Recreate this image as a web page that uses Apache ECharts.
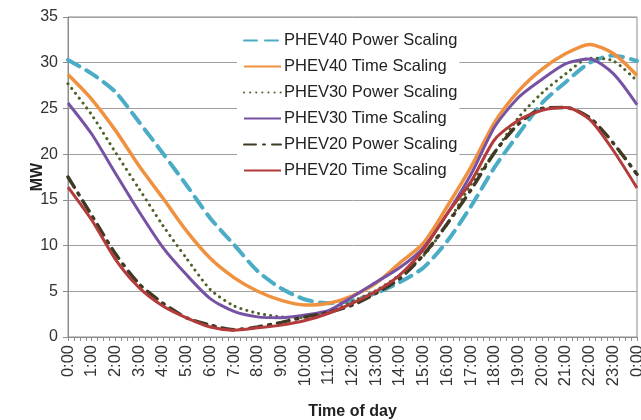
<!DOCTYPE html>
<html>
<head>
<meta charset="utf-8">
<script src="https://cdn.jsdelivr.net/npm/echarts@6/dist/echarts.min.js"></script>
<style>
  html, body { margin: 0; padding: 0; background: #fff; }
  #main { width: 641px; height: 420px; }
</style>
</head>
<body>
<div id="main"></div>
<script>
// hours of the day (0:00 .. 24:00)
const hours = [0, 1, 2, 3, 4, 5, 6, 7, 8, 9, 10, 11, 12, 13, 14, 15, 16, 17, 18, 19, 20, 21, 22, 23, 24];

// MW values, one per hour
const phev40Power = [30.3, 28.8, 26.8, 23.5, 20.1, 16.6, 13.0, 10.1, 7.2, 5.3, 4.1, 3.7, 4.0, 4.8, 6.0, 7.6, 10.5, 14.3, 18.6, 22.2, 25.6, 27.9, 30.0, 30.8, 30.2];
const phev40Time  = [28.7, 26.0, 22.6, 18.7, 15.2, 11.6, 8.6, 6.5, 5.0, 4.0, 3.5, 3.7, 4.5, 5.9, 8.1, 10.3, 14.3, 18.6, 23.5, 26.9, 29.3, 31.0, 32.0, 31.0, 28.6];
const phev30Power = [27.7, 24.3, 20.2, 16.2, 12.2, 8.6, 5.2, 3.4, 2.6, 2.2, 2.1, 2.7, 3.9, 5.1, 6.8, 8.9, 12.4, 16.7, 20.2, 24.0, 26.7, 28.8, 30.5, 30.2, 28.0];
const phev30Time  = [25.6, 22.2, 17.9, 13.7, 9.8, 6.8, 4.2, 2.8, 2.2, 2.1, 2.4, 2.9, 4.4, 6.0, 7.6, 9.8, 13.5, 17.8, 23.0, 26.2, 28.2, 29.9, 30.4, 28.8, 25.4];
const phev20Power = [17.5, 13.3, 9.1, 5.8, 3.7, 2.1, 1.3, 0.8, 1.1, 1.6, 2.2, 2.7, 3.5, 4.8, 6.4, 9.0, 12.4, 16.1, 20.2, 23.3, 25.0, 25.1, 24.0, 21.2, 17.8];
const phev20Time  = [16.4, 12.8, 8.5, 5.4, 3.4, 2.1, 1.1, 0.75, 1.0, 1.3, 1.8, 2.6, 3.7, 5.0, 6.8, 9.6, 13.5, 17.0, 21.6, 23.7, 24.8, 25.1, 23.8, 20.4, 16.3];

const FONT = 'Arial, "Liberation Sans", sans-serif';

function pairs(vals) {
  return hours.map((h, i) => [h, vals[i]]);
}

function mkSeries(name, vals, color, width, type, cap) {
  return {
    name: name,
    type: 'line',
    data: pairs(vals),
    smooth: 0.25,
    symbol: 'none',
    itemStyle: { color: color },
    lineStyle: { color: color, width: width, type: type, cap: cap || 'butt' }
  };
}

let chart = echarts.init(document.getElementById('main'), null, { renderer: 'canvas' });

let option = {
  animation: false,
  backgroundColor: '#fff',
  textStyle: { fontFamily: FONT },
  grid: {
    left: 68, right: 4, top: 17, bottom: 83,
    outerBoundsMode: 'none',
    containLabel: false,
    show: true, borderColor: '#8c8c8c', borderWidth: 1
  },
  legend: {
    orient: 'vertical',
    left: 237, top: 27,
    padding: [5, 2, 4, 6],
    backgroundColor: '#fff',
    itemWidth: 37, itemHeight: 16, itemGap: 9,
    itemStyle: { opacity: 0 },
    textStyle: { fontSize: 16.5, color: '#222', fontFamily: FONT, padding: [0, 0, 0, -2] },
    data: ['PHEV40 Power Scaling', 'PHEV40 Time Scaling', 'PHEV30 Power Scaling',
           'PHEV30 Time Scaling', 'PHEV20 Power Scaling', 'PHEV20 Time Scaling']
  },
  xAxis: {
    type: 'value',
    min: 0, max: 24, interval: 1,
    name: 'Time of day',
    nameLocation: 'middle',
    nameGap: 67,
    nameMoveOverlap: false,
    nameTextStyle: { fontSize: 16, fontWeight: 'bold', color: '#222', fontFamily: FONT },
    axisLine: { show: true, lineStyle: { color: '#8c8c8c', width: 1 } },
    axisTick: { show: true, length: 4, lineStyle: { color: '#8c8c8c' } },
    minorTick: { show: true, splitNumber: 4, length: 4, lineStyle: { color: '#8c8c8c' } },
    splitLine: { show: false },
    axisLabel: {
      rotate: 90, fontSize: 16.5, color: '#333', margin: 8, fontFamily: FONT,
      formatter: v => (v % 24) + ':00'
    }
  },
  yAxis: {
    type: 'value',
    min: 0, max: 35, interval: 5,
    name: 'MW',
    nameLocation: 'middle',
    nameGap: 22,
    nameMoveOverlap: false,
    nameTextStyle: { fontSize: 16, fontWeight: 'bold', color: '#222', fontFamily: FONT },
    axisLine: { show: true, lineStyle: { color: '#8c8c8c', width: 1 } },
    axisTick: { show: true, length: 5, lineStyle: { color: '#8c8c8c' } },
    splitLine: { show: true, lineStyle: { color: '#a0a0a0', width: 1 } },
    axisLabel: { fontSize: 16, color: '#333', margin: 10, fontFamily: FONT }
  },
  series: [
    mkSeries('PHEV40 Power Scaling', phev40Power, '#4bacc6', 4, [13, 8], 'round'),
    mkSeries('PHEV40 Time Scaling', phev40Time, '#f0913f', 3.5, 'solid'),
    mkSeries('PHEV30 Power Scaling', phev30Power, '#4f6228', 3, [0.1, 6], 'round'),
    mkSeries('PHEV30 Time Scaling', phev30Time, '#7652a4', 3, 'solid'),
    mkSeries('PHEV20 Power Scaling', phev20Power, '#3f3a24', 3.5, [12, 7, 2, 7], 'round'),
    mkSeries('PHEV20 Time Scaling', phev20Time, '#b33b3b', 3, 'solid')
  ]
};
chart.setOption(option);
</script>
</body>
</html>
